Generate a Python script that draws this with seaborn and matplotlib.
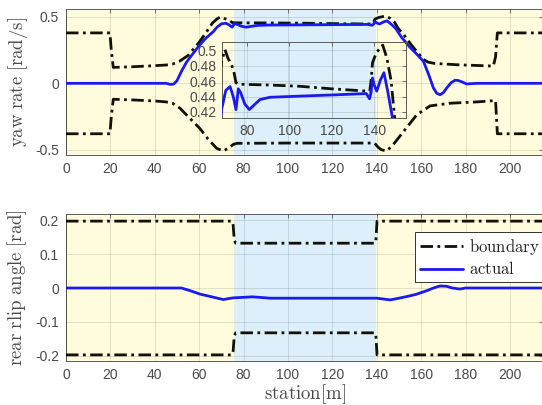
import numpy as np
import pandas as pd
import matplotlib
matplotlib.use("Agg")
import matplotlib.pyplot as plt
import seaborn as sns

# ---------------- data ----------------
yaw_ub_s = [0, 19.8, 20.4, 21.3, 30, 40, 45, 48, 51, 55, 60, 63, 66, 68, 69.6, 71, 72.5, 73.6, 74.8, 76,
            90, 105, 120, 137.9, 138.5, 139.2, 141, 144, 146, 148, 149.6, 152, 156, 161, 163, 166,
            176, 192.5, 193.5, 194.3, 200, 215]
yaw_ub = [0.38, 0.38, 0.25, 0.12, 0.125, 0.133, 0.138, 0.145, 0.165, 0.21, 0.31, 0.38, 0.455, 0.485, 0.501,
          0.49, 0.482, 0.475, 0.458, 0.456, 0.455, 0.4533, 0.45, 0.4468, 0.46, 0.484, 0.497, 0.507, 0.49,
          0.46, 0.414, 0.369, 0.28, 0.18, 0.16, 0.15, 0.14, 0.13, 0.2, 0.38, 0.38, 0.38]

yaw_lb_s = [0, 19.8, 20.4, 21.3, 30, 40, 45, 48, 51.3, 55, 60.3, 64, 67.9, 70.9, 73, 75.4, 77, 100, 120,
            139, 140.5, 142, 144.4, 147, 152, 158, 164, 173, 185, 193.5, 194.3, 200, 215]
yaw_lb = [-0.38, -0.38, -0.25, -0.12, -0.125, -0.133, -0.14, -0.15, -0.187, -0.25, -0.34, -0.42, -0.49,
          -0.51, -0.49, -0.46, -0.452, -0.45, -0.45, -0.45, -0.48, -0.5, -0.51, -0.47, -0.364, -0.237,
          -0.17, -0.15, -0.14, -0.13, -0.38, -0.38, -0.38]

yaw_s = [0, 45, 47, 48.5, 50, 52, 54.3, 57, 60.3, 63, 66.4, 68, 70, 72, 73.5, 74.8, 75.9, 77, 79, 81.1,
         83, 86.1, 90.8, 105, 120, 136.3, 137.8, 138.5, 139.2, 140, 141.2, 143, 144.6, 146.5, 148.5,
         151, 155, 158, 161, 163.5, 165.5, 167, 168.5, 170, 171.5, 173.5, 175.2, 176.5, 178.2, 180.5,
         183, 185, 215]
yaw_act = [0, 0, -0.008, -0.006, 0.02, 0.09, 0.16, 0.22, 0.29, 0.34, 0.39, 0.423, 0.448, 0.453, 0.44,
           0.423, 0.45, 0.445, 0.43, 0.423, 0.428, 0.436, 0.439, 0.4405, 0.442, 0.4438, 0.437, 0.445,
           0.464, 0.455, 0.447, 0.462, 0.471, 0.445, 0.414, 0.35, 0.27, 0.22, 0.166, 0.06, -0.035,
           -0.075, -0.086, -0.07, -0.035, 0.005, 0.023, 0.022, 0.012, -0.005, -0.002, 0, 0]

slip_b_s = [0, 74.8, 75.3, 75.8, 76.5, 139.2, 139.6, 140.1, 215]
slip_ub = [0.197, 0.197, 0.185, 0.14, 0.132, 0.132, 0.14, 0.197, 0.197]
slip_lb = [-0.197, -0.197, -0.185, -0.14, -0.132, -0.132, -0.14, -0.197, -0.197]

slip_s = [0, 52, 56, 60.4, 65, 70.9, 72.5, 75.4, 81.4, 84, 92, 110, 130, 140, 146, 150, 155, 158,
          162.5, 165.5, 168.5, 171.5, 174, 177.5, 180, 215]
slip_act = [0, 0, -0.008, -0.018, -0.025, -0.034, -0.032, -0.029, -0.027, -0.026, -0.03, -0.03, -0.03,
            -0.03, -0.035, -0.03, -0.023, -0.018, -0.008, 0.0, 0.006, 0.005, 0.0, -0.003, 0, 0]

zone_edges = [0, 75.5, 139.5, 215]
zone_colors = ["#FFFCDE", "#DCEFFA", "#FFFCDE"]

x_ticks = [0, 20, 40, 60, 80, 100, 120, 140, 160, 180, 200]
yaw_ticks = [-0.5, 0, 0.5]
yaw_ticklabels = ["-0.5", "0", "0.5"]
slip_ticks = [-0.2, -0.1, 0, 0.1, 0.2]
slip_ticklabels = ["-0.2", "-0.1", "0", "0.1", "0.2"]
inset_xticks = [80, 100, 120, 140]
inset_yticks = [0.42, 0.44, 0.46, 0.48, 0.5]
inset_yticklabels = ["0.42", "0.44", "0.46", "0.48", "0.5"]

# ---------------- style ----------------
sns.set_style("white")
plt.rcParams["font.family"] = ["Liberation Sans", "DejaVu Sans"]
plt.rcParams["mathtext.fontset"] = "cm"
plt.rcParams["axes.unicode_minus"] = False

TICK_COLOR = "#4a4a4a"
SPINE_COLOR = "#5a5a5a"
BLUE = "#1a1aee"
BLACK = "#111108"
DASH = (0, (4.5, 1.6, 1.0, 1.6))

fig = plt.figure(figsize=(5.42, 4.05), dpi=100)
W = 2.22 * 215 / 542
ax1 = fig.add_axes([66 / 542, 1 - 155 / 405, W, 146 / 405])
ax2 = fig.add_axes([66 / 542, 1 - 361 / 405, W, 147 / 405])


def style_axes(ax, xlim, ylim, xticks, yticks, yticklabels, fs=10):
    ax.set_xlim(*xlim)
    ax.set_ylim(*ylim)
    ax.set_xticks(xticks)
    ax.set_xticklabels([str(t) for t in xticks])
    ax.set_yticks(yticks)
    ax.set_yticklabels(yticklabels)
    ax.tick_params(direction="in", length=3, width=0.6, colors=SPINE_COLOR,
                   labelcolor=TICK_COLOR, labelsize=fs, top=True, right=True, pad=5)
    ax.grid(True, color="#000000", alpha=0.13, lw=0.6)
    ax.set_axisbelow(False)
    for sp in ax.spines.values():
        sp.set_color(SPINE_COLOR)
        sp.set_linewidth(0.7)
        sp.set_visible(True)


def draw_zones(ax):
    for i, c in enumerate(zone_colors):
        ax.axvspan(zone_edges[i], zone_edges[i + 1], color=c, lw=0, zorder=0)


def line(ax, s, v, color, ls, lw, label=None):
    df = pd.DataFrame({"s": s, "v": v})
    sns.lineplot(data=df, x="s", y="v", ax=ax, color=color, linestyle=ls, lw=lw,
                 estimator=None, sort=False, label=label, legend=False, zorder=3)


# ---- top: yaw rate ----
draw_zones(ax1)
line(ax1, yaw_ub_s, yaw_ub, BLACK, DASH, 2.0)
line(ax1, yaw_lb_s, yaw_lb, BLACK, DASH, 2.0)
line(ax1, yaw_s, yaw_act, BLUE, "-", 2.0)
style_axes(ax1, (0, 215), (-0.54, 0.56), x_ticks, yaw_ticks, yaw_ticklabels)
ax1.set_xlabel("")
ax1.set_ylabel(r"$\mathrm{yaw\ rate\ [rad/s]}$", fontsize=13.5, color=TICK_COLOR, labelpad=4)

# ---- inset ----
axi = fig.add_axes([222 / 542, 1 - 118 / 405, 184 / 542, 76 / 405])
axi.set_facecolor("none")
line(axi, yaw_ub_s, yaw_ub, BLACK, DASH, 2.0)
line(axi, yaw_s, yaw_act, BLUE, "-", 2.0)
style_axes(axi, (68.2, 155), (0.412, 0.511), inset_xticks, inset_yticks, inset_yticklabels)
axi.tick_params(pad=4)
axi.set_xlabel("")
axi.set_ylabel("")

# ---- bottom: slip angle ----
draw_zones(ax2)
line(ax2, slip_b_s, slip_ub, BLACK, DASH, 2.0, label=r"$\mathrm{boundary}$")
line(ax2, slip_b_s, slip_lb, BLACK, DASH, 2.0)
line(ax2, slip_s, slip_act, BLUE, "-", 2.0, label=r"$\mathrm{actual}$")
style_axes(ax2, (0, 215), (-0.215, 0.218), x_ticks, slip_ticks, slip_ticklabels)
ax2.set_xlabel(r"$\mathrm{station[m]}$", fontsize=13.5, color=TICK_COLOR, labelpad=0)
ax2.set_ylabel(r"$\mathrm{rear\ rlip\ angle\ [rad]}$", fontsize=13.5, color=TICK_COLOR, labelpad=4)

h, l = ax2.get_legend_handles_labels()
leg = ax2.legend(h, l, loc="upper left", bbox_to_anchor=(415 / 542, 1 - 232 / 405),
                 bbox_transform=fig.transFigure, borderaxespad=0, fontsize=12,
                 frameon=True, fancybox=False, framealpha=1, edgecolor="#333333",
                 handlelength=2.6, handletextpad=0.35, borderpad=0.3, labelspacing=0.2)
leg.get_frame().set_linewidth(0.7)
for t in leg.get_texts():
    t.set_color("#222222")

fig.savefig("out.png", dpi=100)
